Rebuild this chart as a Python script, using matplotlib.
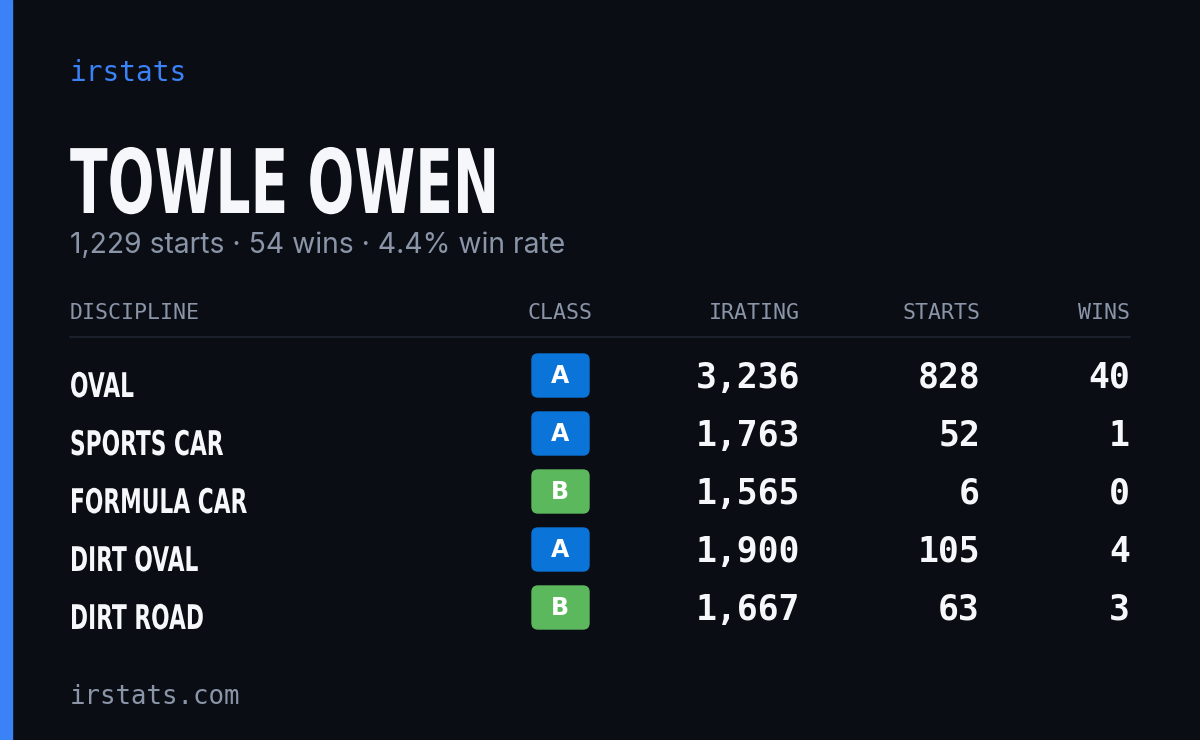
import matplotlib
matplotlib.use("Agg")
import matplotlib.pyplot as plt
from matplotlib.patches import FancyBboxPatch, Rectangle, PathPatch
from matplotlib.textpath import TextPath
from matplotlib.font_manager import FontProperties
from matplotlib.transforms import Affine2D

# card data
driver = "TOWLE OWEN"
summary = "1,229 starts · 54 wins · 4.4% win rate"
headers = ["DISCIPLINE", "CLASS", "IRATING", "STARTS", "WINS"]
disciplines = ["OVAL", "SPORTS CAR", "FORMULA CAR", "DIRT OVAL", "DIRT ROAD"]
classes = ["A", "A", "B", "A", "B"]
iratings = [3236, 1763, 1565, 1900, 1667]
starts = [828, 52, 6, 105, 63]
wins = [40, 1, 0, 4, 3]

BG = "#0a0d14"
ACCENT = "#3b82f6"
GREY = "#8b95a8"
WHITE = "#f5f7fa"
CLASS_COL = {"A": "#0b74d8", "B": "#5cb85c"}

MONO = "DejaVu Sans Mono"
BOLD = FontProperties(family="DejaVu Sans", weight="bold")


def narrow_text(ax, x, baseline, s, size, sx, color):
    # condensed look: squeeze a bold text path horizontally
    path = TextPath((0, 0), s, size=size, prop=BOLD)
    tr = Affine2D().scale(sx, -1).translate(x, baseline)
    ax.add_patch(PathPatch(tr.transform_path(path), color=color, lw=0))


fig = plt.figure(figsize=(12, 7.4), dpi=100, facecolor=BG)
ax = fig.add_axes([0, 0, 1, 1])
ax.set_xlim(0, 1200)
ax.set_ylim(740, 0)
ax.axis("off")

ax.add_patch(Rectangle((0, 0), 12, 740, color=ACCENT))

ax.text(70, 73, "irstats", color=ACCENT, family=MONO, fontsize=20, va="center")
narrow_text(ax, 70, 213, driver, 89, 0.62, WHITE)
ax.text(70, 245, summary, color=GREY, family="Inter", fontsize=20.4, va="center")

col_x = [70, 560, 800, 980, 1130]
col_ha = ["left", "center", "right", "right", "right"]
for h, x, ha in zip(headers, col_x, col_ha):
    ax.text(x, 313, h, color=GREY, family=MONO, fontsize=15.5, va="center", ha=ha)
ax.plot([70, 1130], [337, 337], color="#1e2430", lw=1.2)

for i, name in enumerate(disciplines):
    y = 378 + 58 * i
    narrow_text(ax, 70, y + 19, name, 34, 0.64, WHITE)
    ax.add_patch(FancyBboxPatch((532, y - 24), 57, 43,
                                boxstyle="round,pad=0,rounding_size=6",
                                color=CLASS_COL[classes[i]]))
    ax.text(560, y - 2, classes[i], color="white", family="DejaVu Sans",
            fontweight="bold", fontsize=17, ha="center", va="center")
    for val, x in zip([iratings[i], starts[i], wins[i]], col_x[2:]):
        ax.text(x, y, f"{val:,}", color=WHITE, family=MONO, fontweight="bold",
                fontsize=25, ha="right", va="center")

ax.text(70, 697, "irstats.com", color=GREY, family=MONO, fontsize=18.5, va="center")

fig.savefig("out.png", dpi=100, facecolor=BG)
